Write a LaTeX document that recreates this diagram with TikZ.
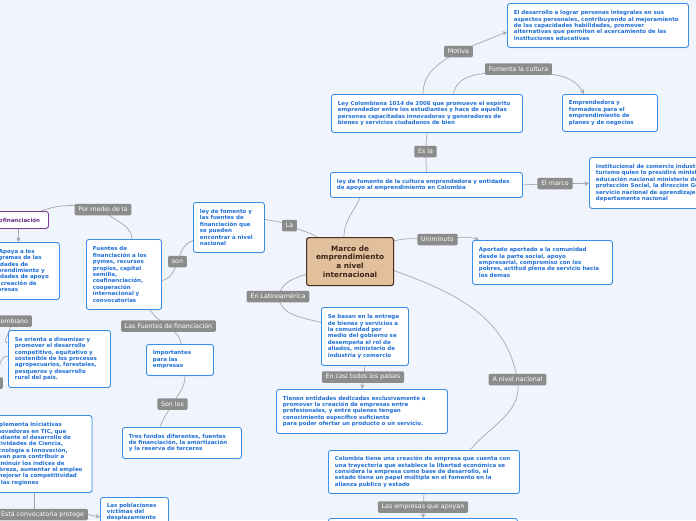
\documentclass[tikz,border=0pt]{standalone}
\usepackage{fontspec}
\setmainfont{DejaVu Sans}
\usepackage{xcolor}
\usepackage{tikz}
\usetikzlibrary{arrows.meta, calc, backgrounds, shadows}

\definecolor{pagebg}{HTML}{F0F4FD}
\definecolor{boxblue}{HTML}{3A8EE6}
\definecolor{txtblue}{HTML}{1F6FD6}
\definecolor{tagfill}{HTML}{8C8C8C}
\definecolor{linkgray}{HTML}{A8A8A8}
\definecolor{rootfill}{HTML}{E2C09E}
\definecolor{rootline}{HTML}{4A2E1F}
\definecolor{roottext}{HTML}{3B2416}
\definecolor{purpleline}{HTML}{7D3C98}
\definecolor{purpletext}{HTML}{6A2C86}

\newcommand{\boxfont}{\bfseries\fontsize{5.5}{6.4}\selectfont}
\newcommand{\tagfont}{\fontsize{6.3}{7}\selectfont}

\tikzstyle{topic} = [rectangle, draw=boxblue, fill=white, line width=0.9pt,
                     rounded corners=2.5pt, anchor=north west, align=left,
                     text=txtblue, font=\boxfont, inner xsep=6.5pt, inner ysep=5.5pt,
                     drop shadow={opacity=0.12, shadow xshift=0.7pt, shadow yshift=-0.9pt}]
\tikzstyle{tag}   = [rectangle, fill=tagfill, text=white, font=\tagfont,
                     rounded corners=1.2pt, inner xsep=3.8pt, inner ysep=2pt, minimum height=11.5pt]
\tikzstyle{link}  = [draw=linkgray, line width=0.7pt]
\tikzstyle{arrow} = [link, -{Stealth[length=4.5pt, width=4.5pt]}]

\begin{document}
\begin{tikzpicture}[x=1pt, y=1pt]
  \useasboundingbox (0,0) rectangle (696,-520);

  % Central topic
  \node[topic, fill=rootfill, draw=rootline, text=roottext, line width=1.1pt, align=center,
        font=\bfseries\fontsize{7.3}{8.8}\selectfont, minimum width=87pt, minimum height=48pt]
    (marco) at (306,-237) {Marco de\\ emprendimiento\\ a nivel\\ internacional};

  % Upper branch
  \node[topic, text width=168pt, minimum height=44pt] (desarrollo) at (507,-3)
    {El desarrollo a lograr personas integrales en sus\\ aspectos personales, contribuyendo al mejoramiento\\ de las capacidades habilidades, promover\\ alternativas que permiten el acercamiento de las\\ instituciones educativas};
  \node[topic, text width=178pt, minimum height=38pt] (ley1014) at (331,-94)
    {Ley Colombiana 1014 de 2006 que promueve el espíritu\\ emprendedor entre los estudiantes y hace de aquellas\\ personas capacitadas innovadoras y generadoras de\\ bienes y servicios ciudadanos de bien};
  \node[topic, text width=82pt, minimum height=37pt] (emprendedora) at (562,-94)
    {Emprendedora y\\ formadora para el\\ emprendimiento de\\ planes y de negocios};
  \node[topic, text width=179pt, minimum height=25pt] (leyfomento) at (330,-172)
    {ley de fomento de la cultura emprendedora y entidades\\ de apoyo al emprendimiento en Colombia};
  \node[topic, text width=162pt, minimum height=51pt] (institucional) at (589,-157)
    {Institucional de comercio industria y\\ turismo quien lo presidirá ministerio de\\ educación nacional ministerio de la\\ protección Social, la dirección General\\ servicio nacional de aprendizaje\\ departamento nacional};
  \node[topic, text width=127pt, minimum height=44pt] (aportado) at (472,-240)
    {Aportado aportado a la comunidad\\ desde la parte social, apoyo\\ empresarial, compromiso con los\\ pobres, actitud plena de servicio hacia\\ los demas};

  % Left branch
  \node[topic, text width=58pt, minimum height=50pt] (leyfuentes) at (193,-202)
    {ley de fomento y\\ las fuentes de\\ financiación que\\ se pueden\\ encontrar a nivel\\ nacional};
  \node[topic, text width=62pt, minimum height=70pt] (fuentes) at (86,-239)
    {Fuentes de\\ financiación a los\\ pymes, recursos\\ propios, capital\\ semilla,\\ coafinanciación,\\ cooperación\\ internacional y\\ convocatorias};
  \node[topic, draw=purpleline, text=purpletext, text width=47pt, minimum height=17pt] (cofin) at (-12,-211)
    {Cofinanciación};
  \node[topic, text width=65pt, minimum height=57pt] (apoya) at (-19,-242)
    {\hspace*{11pt}Apoya a los\\ programas de las\\ entidades de\\ emprendimiento y\\ entidades de apoyo\\ a la creación de\\ empresas};
  \node[topic, text width=89pt, minimum height=57pt] (orienta) at (8,-330)
    {Se orienta a dinamizar y\\ promover el desarrollo\\ competitivo, equitativo y\\ sostenible de los procesos\\ agropecuarios, forestales,\\ pesqueros y desarrollo\\ rural del país.};
  \node[topic, text width=54pt, minimum height=31pt] (importantes) at (146,-344)
    {Importantes\\ para las\\ empresas};
  \node[topic, text width=106pt, minimum height=31pt] (tresfondos) at (122,-427)
    {Tres fondos diferentes, fuentes\\ de financiación, la amortización\\ y la reserva de terceros};
  \node[topic, text width=94pt, minimum height=77pt] (implementa) at (-15.5,-415)
    {Implementa iniciativas\\ innovadoras en TIC, que\\ mediante el desarrollo de\\ actividades de Ciencia,\\ Tecnología e Innovación,\\ sirvan para contribuir a\\ disminuir los índices de\\ pobreza, aumentar el empleo\\ y mejorar la competitividad\\ de las regiones};
  \node[topic, text width=55pt] (poblaciones) at (100,-497)
    {Las poblaciones\\ víctimas del\\ desplazamiento};

  % Lower branch
  \node[topic, text width=74pt, minimum height=58pt] (sebasan) at (321,-307)
    {Se basan en la entrega\\ de bienes y servicios a\\ la comunidad por\\ medio del gobierno se\\ desempeña el rol de\\ aliados, ministerio de\\ industria y comercio};
  \node[topic, text width=158pt, minimum height=44pt] (tienen) at (276,-389)
    {Tienen entidades dedicadas exclusivamente a\\ promover la creación de empresas entre\\ profesionales, y entre quienes tengan\\ conocimiento específico suficiente\\ para poder ofertar un producto o un servicio.};
  \node[topic, text width=178pt, minimum height=43pt] (colombia) at (328,-450)
    {Colombia tiene una creación de empresa que cuenta con\\ una trayectoria que establece la libertad económica se\\ considera la empresa como base de desarrollo, el\\ estado tiene un papel múltiple en el fomento en la\\ alianza publico y estado};
  \node[topic, minimum width=189pt, minimum height=30pt] (apoyan) at (328,-518) {};

  % Link labels
  \node[tag] (tMotiva)     at (458.5,-51.5) {Motiva};
  \node[tag] (tFomenta)    at (518.5,-69)   {Fomenta la cultura};
  \node[tag] (tEsla)       at (425.5,-151.5){Es la};
  \node[tag] (tMarco)      at (555,-183.5)  {El marco};
  \node[tag] (tUniminuto)  at (437.5,-239.5){Uniminuto};
  \node[tag] (tLa)         at (289.5,-225.5){La};
  \node[tag] (tLatam)      at (278,-296.5)  {En Latinoamérica};
  \node[tag] (tPorMedio)   at (103,-209.5)  {Por medio de la};
  \node[tag] (tSon)        at (177.5,-261.5){son};
  \node[tag] (tFuentes)    at (168.5,-326)  {Las Fuentes de financiación};
  \node[tag, anchor=east] (tColombiano) at (32,-321) {Colombiano};
  \node[tag] (tSonLos)     at (172.5,-404)  {Son los};
  \node[tag] (tCasi)       at (363,-377)    {En casi todos los países};
  \node[tag] (tNacional)   at (517.5,-379.5){A nivel nacional};
  \node[tag] (tEmpresas)   at (423,-507)    {Las empresas que apoyan};
  \node[tag, anchor=east] (tProtege) at (88,-514.5) {Está convocatoria protege};
  \node[tag, anchor=east, minimum width=24pt] (tOculto) at (3,-383) {};

  \begin{scope}[on background layer]
    \fill[pagebg] (0,0) rectangle (696,-520);

    % Links — upper branch
    \draw[link] ($(ley1014.north west)+(92,0)$) to[out=90, in=210] (tMotiva.center);
    \draw[arrow] (tMotiva.center) -- ($(desarrollo.south west)+(0,16)$);
    \draw[link] ($(ley1014.north west)+(122,0)$) to[out=75, in=195] (tFomenta.center);
    \draw[arrow] (tFomenta.center) to[out=-15, in=120] ($(emprendedora.north west)+(22,0)$);
    \draw[link] (leyfomento.north) -- (tEsla.center) -- (ley1014.south);
    \draw[link] ($(marco.north west)+(38,0)$) to[out=90, in=245] ($(leyfomento.south west)+(30,0)$);
    \draw[arrow] (leyfomento.east) -- (tMarco.center) -- (institucional.west |- tMarco);
    \draw[link] ($(marco.north east)+(0,-4)$) to[out=15, in=180] (tUniminuto.center);
    \draw[arrow] (tUniminuto.center) to[out=0, in=160] ($(aportado.north west)+(7,0)$);

    % Links — lower branch
    \draw[link] ($(marco.west)+(0,-13)$) to[out=195, in=75] (tLatam.center)
      to[out=-80, in=165] ($(sebasan.west)+(0,14)$);
    \draw[arrow] (sebasan.south) -- (tienen.north);
    \draw[link] ($(marco.east)+(0,-9)$) to[out=-20, in=100] (tNacional.center)
      to[out=-80, in=50] ($(colombia.north west)+(142,0)$);
    \draw[arrow] (colombia.south) -- (apoyan.north);

    % Links — left branch
    \draw[link] ($(marco.north west)+(11,0)$) to[out=150, in=-25] (tLa.center)
      to[out=155, in=-10] ($(leyfuentes.east)+(0,8)$);
    \draw[link] ($(leyfuentes.west)+(0,-13)$) to[out=200, in=70] (tSon.center)
      to[out=250, in=10] ($(fuentes.east)+(0,-6)$);
    \draw[link] ($(fuentes.north west)+(46,0)$) to[out=95, in=-50] (tPorMedio.center)
      to[out=170, in=20] ($(cofin.north east)+(-8,0)$);
    \draw[arrow] (cofin.south) -- (cofin.south |- apoya.north);
    \draw[link] ($(fuentes.south west)+(64,0)$) to[out=-55, in=150] (tFuentes.center)
      to[out=-45, in=95] ($(importantes.north west)+(35,0)$);
    \draw[link] ($(importantes.south west)+(39,0)$) to[out=-90, in=60] (tSonLos.center)
      to[out=-120, in=70] ($(tresfondos.north west)+(38,0)$);
    \draw[link] (tColombiano.center) to[out=-40, in=180] ($(orienta.west)+(0,16)$);
    \draw[link] ($(orienta.west)+(0,3)$) to[out=180, in=20] (tOculto.center);
    \coordinate (implfoot) at ($(implementa.south west)+(50,0)$);
    \draw[link] (implfoot) -- (implfoot |- tProtege.north);
    \draw[arrow] (tProtege.east) -- ($(poblaciones.north west)+(0,-20)$);
  \end{scope}
\end{tikzpicture}
\end{document}
